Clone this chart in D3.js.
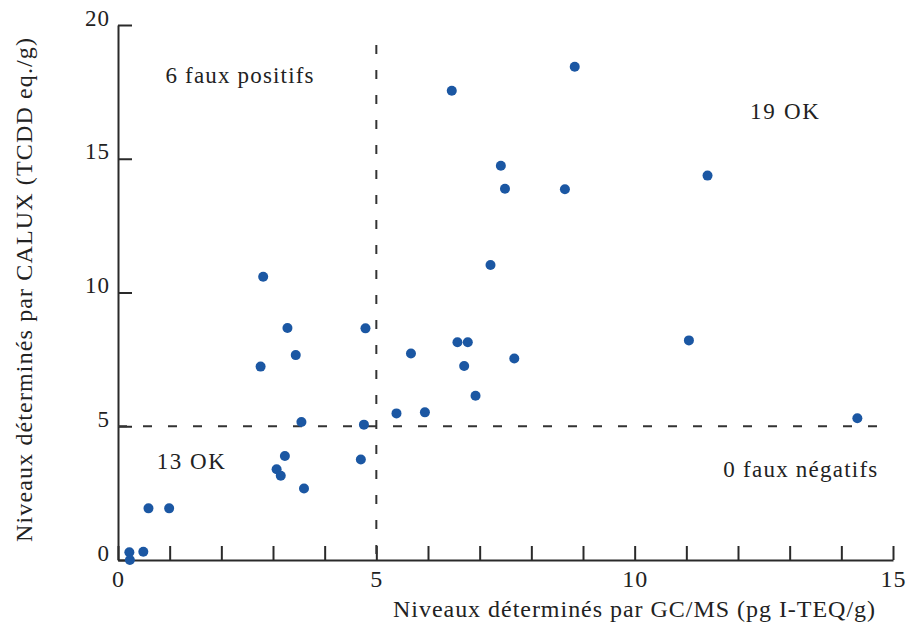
<!DOCTYPE html>
<html>
<head>
<meta charset="utf-8">
<script src="https://cdn.jsdelivr.net/npm/d3@7/dist/d3.min.js"></script>
<style>
  html, body { margin: 0; padding: 0; background: #ffffff; }
  svg { display: block; }
  text { font-family: "Liberation Serif", "DejaVu Serif", serif; fill: #222; }
</style>
</head>
<body>
<svg id="chart" width="906" height="624"></svg>
<script>
// ---- Data ----
const gcmsValues = [0.22, 0.23, 0.49, 0.59, 0.99, 3.07, 3.15, 3.23, 3.60, 3.55, 4.70, 4.76, 5.39,
                    2.81, 3.28, 3.44, 2.76, 4.79, 5.67, 5.94, 6.57, 6.77, 6.70, 6.92, 7.67, 7.21,
                    6.46, 8.84, 7.41, 7.49, 8.65, 11.41, 11.05, 14.31];
const caluxValues = [0.29, 0.0, 0.31, 1.93, 1.93, 3.39, 3.15, 3.89, 2.67, 5.16, 3.76, 5.06, 5.48,
                     10.59, 8.67, 7.66, 7.23, 8.66, 7.72, 5.52, 8.14, 8.14, 7.25, 6.14, 7.53, 11.03,
                     17.54, 18.44, 14.74, 13.88, 13.86, 14.37, 8.21, 5.30];
const xTickValues = [0, 1, 2, 3, 4, 5, 6, 7, 8, 9, 10, 11, 12, 13, 14, 15];
const xTickLabels = [0, 5, 10, 15];
const yTickValues = [0, 5, 10, 15, 20];
const thresholdX = 5;          // GC/MS threshold
const thresholdY = 5;          // CALUX threshold
const vLineTop = 19.25;        // extent of vertical dashed line (data units)
const hLineRight = 14.7;       // extent of horizontal dashed line (data units)
const quadrantLabels = [
  { text: "6 faux positifs", x: 0.92, y: 17.85, w: 148 },
  { text: "19 OK", x: 12.23, y: 16.5, w: 69 },
  { text: "13 OK", x: 0.75, y: 3.41, w: 68 },
  { text: "0 faux négatifs", x: 11.716, y: 3.1, w: 154 }
];
const xTitle = "Niveaux déterminés par GC/MS (pg I-TEQ/g)";
const yTitle = "Niveaux déterminés par CALUX (TCDD eq./g)";

// ---- Chart ----
const svg = d3.select("#chart");
const x = d3.scaleLinear().domain([0, 15]).range([118, 893]);
const y = d3.scaleLinear().domain([0, 20]).range([560, 25]);
const axisColor = "#2a2a2a";

// X axis
const gx = svg.append("g").attr("transform", `translate(0,${y(0)})`)
  .call(d3.axisBottom(x).tickValues(xTickValues).tickSize(-14).tickSizeOuter(0)
        .tickFormat(d => xTickLabels.includes(d) ? d : ""));
gx.select(".domain").attr("stroke", axisColor).attr("stroke-width", 2);
gx.selectAll(".tick line").attr("stroke", axisColor).attr("stroke-width", 2);
gx.selectAll(".tick text").attr("y", 27).attr("dy", 0)
  .attr("font-size", 24).attr("letter-spacing", 1)
  .attr("font-family", "Liberation Serif, serif").attr("fill", "#222");

// Y axis
const gy = svg.append("g").attr("transform", `translate(${x(0)},0)`)
  .call(d3.axisLeft(y).tickValues(yTickValues).tickSize(-14).tickSizeOuter(0));
gy.select(".domain").attr("stroke", axisColor).attr("stroke-width", 2);
gy.selectAll(".tick line").attr("stroke", axisColor).attr("stroke-width", 2);
gy.selectAll(".tick text").attr("x", -8).attr("dy", 0)
  .attr("font-size", 23).attr("letter-spacing", 1)
  .attr("font-family", "Liberation Serif, serif").attr("fill", "#222");

// Threshold dashed lines
svg.append("line")
  .attr("x1", x(thresholdX)).attr("x2", x(thresholdX))
  .attr("y1", y(vLineTop)).attr("y2", y(0))
  .attr("stroke", "#333").attr("stroke-width", 2).attr("stroke-dasharray", "9,16");
svg.append("line")
  .attr("x1", x(0)).attr("x2", x(hLineRight))
  .attr("y1", y(thresholdY)).attr("y2", y(thresholdY))
  .attr("stroke", "#333").attr("stroke-width", 2).attr("stroke-dasharray", "9,16");

// Points
const points = gcmsValues.map((v, i) => ({ gx: v, cy: caluxValues[i] }));
svg.append("g").selectAll("circle").data(points).join("circle")
  .attr("cx", d => x(d.gx)).attr("cy", d => y(d.cy))
  .attr("r", 5).attr("fill", "#1b57a3");

// Quadrant labels
svg.append("g").selectAll("text").data(quadrantLabels).join("text")
  .attr("x", d => x(d.x)).attr("y", d => y(d.y))
  .attr("font-size", 23)
  .attr("textLength", d => d.w).attr("lengthAdjust", "spacing")
  .text(d => d.text);

// Axis titles
svg.append("text")
  .attr("x", 634).attr("y", 617).attr("text-anchor", "middle")
  .attr("font-size", 24).attr("textLength", 482).attr("lengthAdjust", "spacing")
  .text(xTitle);
svg.append("text")
  .attr("transform", "translate(32,290) rotate(-90)")
  .attr("text-anchor", "middle")
  .attr("font-size", 24).attr("textLength", 504).attr("lengthAdjust", "spacing")
  .text(yTitle);
</script>
</body>
</html>
